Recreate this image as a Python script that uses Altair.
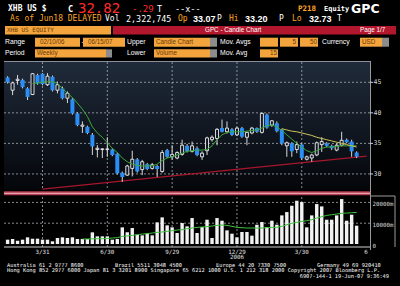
import altair as alt
import pandas as pd

# ---------------- data ----------------
week_dates = [d.strftime("%Y-%m-%d") for d in pd.date_range("2006-02-10", periods=71, freq="7D")]

opens = [45.8, 43.7, 45.3, 45.4, 44.0, 43.0, 46.2, 46.4, 44.6, 45.9,
         43.7, 44.0, 42.4, 42.2, 39.9, 37.8, 37.7, 36.4, 34.0, 34.0,
         34.0, 34.0, 33.3, 30.2, 29.8, 30.9, 32.4, 30.7, 31.6, 30.9,
         31.3, 30.4, 33.9, 32.8, 32.6, 33.2, 34.6, 33.7, 34.2, 32.8,
         33.8, 35.6, 35.8, 37.5, 36.9, 37.3, 36.4, 37.5, 36.0, 36.7,
         37.5, 36.8, 39.7, 38.0, 38.3, 37.2, 34.6, 35.0, 34.0, 34.8,
         32.4, 32.6, 33.1, 34.8, 35.0, 34.6, 33.9, 34.7, 35.6, 35.3, 33.5]
closes = [45.0, 44.9, 45.5, 44.2, 42.6, 46.4, 44.8, 44.7, 46.0, 43.7,
          44.6, 42.4, 43.2, 39.9, 38.0, 38.0, 36.7, 34.5, 34.2, 34.1,
          34.1, 33.1, 30.1, 29.5, 31.3, 32.4, 30.4, 32.0, 30.8, 31.5,
          30.8, 33.5, 32.8, 33.2, 33.5, 34.7, 33.7, 34.6, 33.1, 33.4,
          35.9, 36.0, 37.3, 36.9, 37.5, 36.4, 37.5, 36.1, 36.8, 37.5,
          36.9, 39.9, 37.6, 38.7, 37.0, 35.0, 35.1, 33.7, 34.8, 32.6,
          32.8, 33.1, 35.1, 35.3, 34.6, 34.2, 34.7, 35.5, 35.2, 33.7, 32.82]
highs = [46.0, 45.1, 46.2, 45.6, 44.2, 46.5, 46.4, 46.5, 46.5, 46.1,
         45.1, 44.3, 43.5, 42.4, 40.1, 38.6, 37.9, 36.7, 34.7, 34.2,
         36.0, 34.2, 33.5, 30.4, 31.5, 33.8, 32.6, 32.3, 31.8, 31.8,
         31.5, 33.9, 34.1, 34.7, 33.7, 35.6, 34.9, 35.3, 34.5, 33.7,
         36.1, 36.3, 37.5, 38.9, 38.6, 37.5, 37.7, 37.7, 36.9, 37.7,
         37.6, 40.1, 39.9, 38.8, 38.6, 37.4, 35.3, 35.2, 35.3, 35.0,
         33.0, 33.3, 35.3, 36.0, 35.2, 34.8, 35.0, 36.9, 35.8, 35.6, 33.7]
lows = [44.8, 42.9, 44.6, 44.0, 42.1, 42.9, 44.6, 44.5, 44.4, 43.5,
        43.2, 42.2, 41.6, 39.7, 37.8, 36.7, 36.5, 33.1, 32.7, 32.6,
        32.8, 32.9, 29.9, 28.7, 29.7, 29.6, 30.2, 29.8, 30.6, 30.7,
        29.5, 30.2, 32.6, 32.3, 32.4, 33.0, 33.5, 33.5, 32.9, 32.3,
        33.1, 35.3, 34.7, 36.8, 36.6, 36.2, 36.2, 35.9, 34.7, 36.5,
        36.7, 36.6, 37.4, 37.7, 36.8, 34.7, 32.8, 32.8, 33.4, 32.3,
        32.2, 32.0, 32.9, 33.6, 34.4, 33.9, 33.7, 34.5, 35.0, 32.8, 32.6]
volumes = [2080, 2400, 1600, 2080, 3200, 2560, 2560, 2080, 2080, 1280,
           2880, 3200, 2880, 3200, 2400, 2400, 2400, 5600, 3680, 3680,
           3680, 2080, 2400, 8000, 5600, 7680, 4480, 4160, 5120, 4160,
           10400, 12800, 8960, 8000, 5280, 10080, 8480, 12480, 5280, 8160,
           11680, 2880, 12480, 11200, 6560, 4960, 3200, 5760, 5760, 4000,
           9280, 10560, 8160, 11200, 9280, 13760, 15360, 18400, 20800, 20160,
           8000, 13760, 19200, 18080, 11680, 11680, 13760, 21600, 11200, 14080, 8800]

# short moving average (green) from week 6, long (yellow) from week 56
ma_short = [44.8, 44.9, 45.0, 45.1, 45.1, 44.8, 44.0, 43.2, 42.5, 41.6,
            40.6, 39.4, 37.7, 36.7, 36.0, 35.1, 34.2, 33.5, 32.6, 32.0,
            31.6, 31.4, 31.3, 31.3, 31.3, 31.6, 32.2, 32.6, 32.8, 33.1,
            33.4, 33.7, 33.8, 33.9, 33.9, 34.0, 34.6, 35.6, 36.4, 36.8,
            36.9, 36.9, 36.9, 37.0, 37.1, 37.2, 37.5, 37.9, 38.0, 37.7,
            37.1, 36.4, 35.7, 35.0, 34.4, 33.8, 33.5, 33.8, 34.2, 34.4,
            34.4, 34.5, 34.6, 34.6, 34.6, 34.6]
ma_long = [37.4, 37.2, 37.0, 36.9, 36.7, 36.5, 36.3, 36.0, 35.8, 35.6,
           35.4, 35.2, 35.0, 34.8, 34.6, 34.4]
# volume moving average (15) from week 16
ma_volume = [2400, 2400, 2480, 2560, 2560, 2640, 2880, 3040, 3680, 3840,
             4160, 4480, 4800, 4960, 5280, 5600, 5760, 6080, 6400, 6720,
             6880, 7360, 7680, 8000, 8160, 8320, 8640, 8960, 9120, 8960,
             8480, 8000, 7840, 7680, 7680, 7680, 7680, 7840, 8000, 8000,
             8480, 9280, 9920, 10400, 10880, 11200, 11680, 12480, 13120, 13760,
             14080, 14400, 14720, 14880, 15040, 15200]

trend_dates = ["2006-03-31", "2007-06-29"]
trend_values = [27.5, 32.9]

price_ticks = [45, 40, 35, 30]
volume_ticks = [20000, 10000, 0]
volume_tick_labels = ["20000m", "10000m", "0"]
grid_dates = ["2006-03-31", "2006-06-30", "2006-09-29", "2006-12-29", "2007-03-30"]
date_tick_dates = ["2006-03-31", "2006-06-30", "2006-09-29", "2006-12-29", "2007-03-30", "2007-06-28"]
date_tick_labels = ["3/31", "6/30", "9/29", "12/29", "3/30", "6"]
year_label_date = ["2006-12-29"]
year_label = ["2006"]

# ---------------- tables ----------------
candles = pd.DataFrame({"date": week_dates, "open": opens, "high": highs,
                        "low": lows, "close": closes, "volume": volumes})
short_df = pd.DataFrame({"date": week_dates[5:], "ma": ma_short})
long_df = pd.DataFrame({"date": week_dates[55:], "ma": ma_long})
vma_df = pd.DataFrame({"date": week_dates[15:], "ma": ma_volume})
trend_df = pd.DataFrame({"date": trend_dates, "v": trend_values})
pt_df = pd.DataFrame({"v": price_ticks, "label": [str(p) for p in price_ticks]})
vt_df = pd.DataFrame({"v": volume_ticks, "label": volume_tick_labels})
grid_df = pd.DataFrame({"date": grid_dates})
dt_df = pd.DataFrame({"date": date_tick_dates, "label": date_tick_labels})
yr_df = pd.DataFrame({"date": year_label_date, "label": year_label})

MONO = "DejaVu Sans Mono"
SANS = "Liberation Sans"

xs = alt.Scale(domain=[alt.DateTime(year=2006, month=2, date=10, utc=True),
                       alt.DateTime(year=2007, month=6, date=29, utc=True)],
               range=[2.6, 371.6], nice=False)
ps = alt.Scale(domain=[27.37, 48.32], range=[190, 62], zero=False, nice=False)
vs = alt.Scale(domain=[0, 22600], range=[244, 197], zero=False, nice=False)


def X():
    return alt.X("date:T", scale=xs, axis=None)


ONE = alt.Data(values=[{"k": 0}])


def text(s, x, y, color="#ffffff", size=8, weight="normal", font=MONO, align="left"):
    return alt.Chart(ONE).mark_text(text=s, color=color, fontSize=size, fontWeight=weight,
                                    font=font, align=align, baseline="middle").encode(
        x=alt.value(x), y=alt.value(y))


def rect(x1, x2, y1, y2, color):
    return alt.Chart(ONE).mark_rect(color=color).encode(
        x=alt.value(x1), x2=alt.value(x2), y=alt.value(y1), y2=alt.value(y2))


def hline(x1, x2, y, color, width=1.0):
    return alt.Chart(ONE).mark_rule(color=color, strokeWidth=width).encode(
        x=alt.value(x1), x2=alt.value(x2), y=alt.value(y))


def vline(x, y1, y2, color, width=1.0):
    return alt.Chart(ONE).mark_rule(color=color, strokeWidth=width).encode(
        x=alt.value(x), y=alt.value(y1), y2=alt.value(y2))


layers = []

# panel background
panel = alt.Chart(ONE).mark_rect(fill=alt.Gradient(
    gradient="linear", x1=0, x2=0, y1=0, y2=1,
    stops=[alt.GradientStop(color="#202b3b", offset=0),
           alt.GradientStop(color="#04060a", offset=1)])).encode(
    x=alt.value(4), x2=alt.value(370), y=alt.value(61), y2=alt.value(190))
layers.append(panel)
layers.append(hline(4, 370, 61.5, "#8a8f96"))
layers.append(vline(370.5, 61, 250, "#9a9a9a"))
layers.append(hline(4, 370, 247, "#d0d0d0"))
layers.append(vline(395, 196, 247, "#9a9a9a"))
layers.append(hline(370, 395, 196, "#9a9a9a"))

GRID = "#a8adb4"
layers.append(alt.Chart(pt_df).mark_rule(color=GRID, strokeDash=[2, 2], strokeWidth=0.8).encode(
    y=alt.Y("v:Q", scale=ps, axis=None), x=alt.value(4), x2=alt.value(370)))
layers.append(alt.Chart(grid_df).mark_rule(color=GRID, strokeDash=[2, 2], strokeWidth=0.8).encode(
    x=X(), y=alt.value(62), y2=alt.value(190)))
layers.append(alt.Chart(grid_df).mark_rule(color=GRID, strokeDash=[2, 2], strokeWidth=0.8).encode(
    x=X(), y=alt.value(197), y2=alt.value(247)))
layers.append(alt.Chart(vt_df).transform_filter("datum.v > 0").mark_rule(
    color=GRID, strokeDash=[2, 2], strokeWidth=0.8).encode(
    y=alt.Y("v:Q", scale=vs, axis=None), x=alt.value(4), x2=alt.value(370)))

# separator band
layers.append(rect(4, 370, 191.3, 195.3, "#b33d52"))
layers.append(hline(4, 370, 193.3, "#e7a3ad", 1.2))

# trend line
layers.append(alt.Chart(trend_df).mark_line(color="#a8162c", strokeWidth=1.2).encode(
    x=X(), y=alt.Y("v:Q", scale=ps, axis=None)))

# candles
layers.append(alt.Chart(candles).mark_rule(color="#d8d8d8", strokeWidth=1).encode(
    x=X(), y=alt.Y("low:Q", scale=ps, axis=None), y2="high:Q"))
layers.append(alt.Chart(candles).transform_filter("datum.close >= datum.open").mark_bar(
    size=3, fill="#121925", stroke="#eeeeee", strokeWidth=0.9).encode(
    x=X(), y=alt.Y("open:Q", scale=ps, axis=None), y2="close:Q"))
layers.append(alt.Chart(candles).transform_filter("datum.close < datum.open").mark_bar(
    size=4, color="#2a8ef5").encode(
    x=X(), y=alt.Y("open:Q", scale=ps, axis=None), y2="close:Q"))

# moving averages
layers.append(alt.Chart(short_df).mark_line(color="#3aa83a", strokeWidth=1).encode(
    x=X(), y=alt.Y("ma:Q", scale=ps, axis=None)))
layers.append(alt.Chart(long_df).mark_line(color="#c9c656", strokeWidth=1).encode(
    x=X(), y=alt.Y("ma:Q", scale=ps, axis=None)))

# volume
layers.append(alt.Chart(candles).mark_bar(size=3.4, color="#f2f2f2").encode(
    x=X(), y=alt.Y("volume:Q", scale=vs, axis=None), y2=alt.datum(0)))
layers.append(alt.Chart(vma_df).mark_line(color="#3cc03c", strokeWidth=1).encode(
    x=X(), y=alt.Y("ma:Q", scale=vs, axis=None)))

# axis labels
layers.append(alt.Chart(pt_df).mark_rule(color="#d0d0d0").encode(
    y=alt.Y("v:Q", scale=ps, axis=None), x=alt.value(370), x2=alt.value(373)))
layers.append(alt.Chart(pt_df).mark_text(align="left", baseline="middle", font=MONO,
                                         fontSize=6.5, color="#d8d8d8").encode(
    y=alt.Y("v:Q", scale=ps, axis=None), x=alt.value(373.5), text="label:N"))
layers.append(alt.Chart(vt_df).mark_text(align="left", baseline="middle", font=MONO,
                                         fontSize=5.8, color="#d8d8d8", dy=2).encode(
    y=alt.Y("v:Q", scale=vs, axis=None), x=alt.value(372.5), text="label:N"))
layers.append(alt.Chart(dt_df).mark_text(align="center", baseline="middle", font=MONO,
                                         fontSize=5.8, color="#e0e0e0").encode(
    x=X(), y=alt.value(251.5), text="label:N"))
layers.append(alt.Chart(yr_df).mark_text(align="center", baseline="middle", font=MONO,
                                         fontSize=5.8, color="#e0e0e0").encode(
    x=X(), y=alt.value(256.5), text="label:N"))

# ---------------- header ----------------
ORANGE = "#ffa524"
BOX = "#f3a43c"
BOXTXT = "#6b3a08"
GREY = "#8c8c8c"
RED = "#ff2b2b"

layers += [
    text("XHB US $", 8, 8.5, size=8, weight="bold"),
    text("C", 68, 8.5, size=8.5, weight="bold"),
    text("32.82", 78, 8.5, color=RED, size=14),
    text("-.29", 132, 8.5, color=RED, size=9),
    text("T", 157, 8.5, size=8.5),
    text("--x--", 175, 8.5, size=8.5),
    text("P218", 298, 8.5, color=ORANGE, size=7.5, weight="bold"),
    text("Equity", 324, 9, size=7, weight="bold"),
    text("GPC", 351, 8.5, size=12.5, weight="bold", font="DejaVu Sans"),
    text("As of Jun18 DELAYED", 10, 19, color=ORANGE, size=8),
    text("Vol", 105, 19, size=8),
    text("2,322,745", 126, 19, size=8.4),
    text("Op", 178, 19, color=ORANGE, size=8),
    text("33.07", 193, 19, size=9, font=SANS, weight="bold"),
    text("P", 217, 19, size=8),
    text("Hi", 229, 19, color=ORANGE, size=8),
    text("33.20", 245, 19, size=9, font=SANS, weight="bold"),
    text("P", 279, 19, size=8),
    text("Lo", 292, 19, color=ORANGE, size=8),
    text("32.73", 309, 19, size=9, font=SANS, weight="bold"),
    text("T", 337, 19, size=8),
]

# row 3
layers += [
    rect(5, 111, 26, 34.5, BOX),
    text("XHB US EQUITY", 7, 30.3, color=BOXTXT, size=6),
    rect(113, 396, 26, 34.5, "#b3172e"),
    text("GPC - Candle Chart", 205, 30.3, size=6.3, font=SANS),
    text("Page 1/7", 360, 30.3, size=6.3, font=SANS),
]
# row 4
layers += [
    text("Range", 5, 42.2, size=6.8, font=SANS),
    rect(35, 80, 37.7, 46.7, BOX),
    text("02/10/06", 40, 42.2, color=BOXTXT, size=6.3, font=SANS),
    text("-", 81.5, 42.2, size=6.8, font=SANS),
    rect(83, 125, 37.7, 46.7, BOX),
    text("06/15/07", 88, 42.2, color=BOXTXT, size=6.3, font=SANS),
    text("Upper", 127, 42.2, size=6.8, font=SANS),
    rect(154, 210, 37.7, 46.7, BOX),
    rect(210, 217, 37.7, 46.7, GREY),
    text("Candle Chart", 156, 42.2, color=BOXTXT, size=6.3, font=SANS),
    text("Mov. Avgs", 220, 42.2, size=6.8, font=SANS),
    rect(260, 278, 37.7, 46.7, BOX),
    rect(280, 298, 37.7, 46.7, BOX),
    rect(300, 318, 37.7, 46.7, BOX),
    text("5", 296, 42.2, color=BOXTXT, size=6.3, font=SANS, align="right"),
    text("50", 317, 42.2, color=BOXTXT, size=6.3, font=SANS, align="right"),
    text("Currency", 322, 42.2, size=6.8, font=SANS),
    rect(360, 382, 37.7, 46.7, BOX),
    rect(382, 389, 37.7, 46.7, GREY),
    text("USD", 362, 42.2, color=BOXTXT, size=6.3, font=SANS),
]
# row 5
layers += [
    text("Period", 5, 53.3, size=6.8, font=SANS),
    rect(35, 106, 49.3, 57.5, BOX),
    rect(106, 112, 49.3, 57.5, GREY),
    text("Weekly", 37, 53.3, color=BOXTXT, size=6.3, font=SANS),
    text("Lower", 127, 53.3, size=6.8, font=SANS),
    rect(154, 210, 49.3, 57.5, BOX),
    rect(210, 217, 49.3, 57.5, GREY),
    text("Volume", 156, 53.3, color=BOXTXT, size=6.3, font=SANS),
    text("Mov. Avg", 220, 53.3, size=6.8, font=SANS),
    rect(260, 278, 49.3, 57.5, BOX),
    text("15", 277, 53.3, color=BOXTXT, size=6.3, font=SANS, align="right"),
]

# ---------------- footer ----------------
FS = 5.3
layers += [
    text("Australia 61 2 9777 8600", 7, 264.7, size=FS),
    text("Brazil 5511 3048 4500", 115, 264.7, size=FS),
    text("Europe 44 20 7330 7500", 216, 264.7, size=FS),
    text("Germany 49 69 920410", 317, 264.7, size=FS),
    text("Hong Kong 852 2977 6000 Japan 81 3 3201 8900 Singapore 65 6212 1000 "
         "U.S. 1 212 318 2000 Copyright 2007 Bloomberg L.P.", 7, 270.3, size=FS),
    text("6907-144-1 19-Jun-07   9:36:49", 389, 275.5, size=FS, align="right"),
]

chart = alt.layer(*layers).resolve_scale(y="independent").properties(
    width=400, height=286, background="#000000", padding=0,
    autosize=alt.AutoSizeParams(type="none")
).configure_view(stroke=None)

chart.save("out.html", embed_options={"renderer": "svg", "actions": False})
